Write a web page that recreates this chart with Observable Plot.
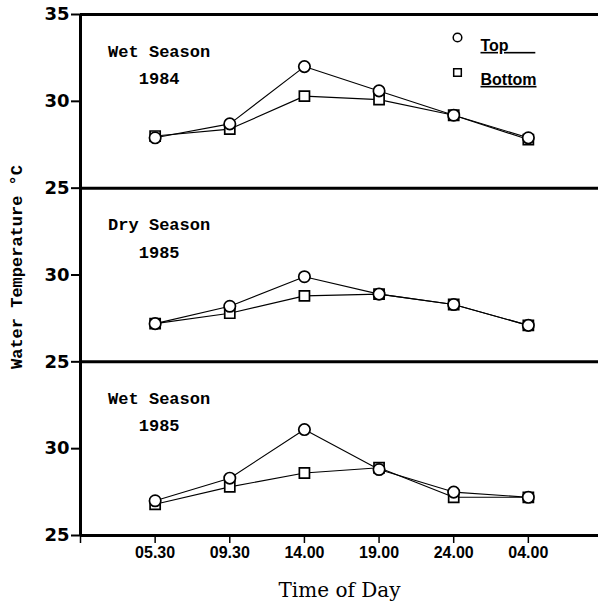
<!DOCTYPE html>
<html><head><meta charset="utf-8">
<script src="https://cdn.jsdelivr.net/npm/d3@7"></script>
<script src="https://cdn.jsdelivr.net/npm/@observablehq/plot@0.6"></script>
<style>
body{margin:0;background:#fff}
g[aria-description="legend-label"] text{text-decoration:underline;text-underline-offset:6px;text-decoration-thickness:1.6px}
</style></head><body><div id="chart"></div>
<script>
// Time of day categories
const times = ["05.30", "09.30", "14.00", "19.00", "24.00", "04.00"];
// Panels (top to bottom)
const panelLabels = ["Wet Season\n1984", "Dry Season\n1985", "Wet Season\n1985"];
const panelOffsets = [20, 10, 0]; // stacking offset of each panel (panel spans 25–35 °C)
// Water temperature °C
const wet1984Top    = [27.9, 28.7, 32.0, 30.6, 29.2, 27.9];
const wet1984Bottom = [28.0, 28.4, 30.3, 30.1, 29.2, 27.8];
const dry1985Top    = [27.2, 28.2, 29.9, 28.9, 28.3, 27.1];
const dry1985Bottom = [27.2, 27.8, 28.8, 28.9, 28.3, 27.1];
const wet1985Top    = [27.0, 28.3, 31.1, 28.8, 27.5, 27.2];
const wet1985Bottom = [26.8, 27.8, 28.6, 28.9, 27.2, 27.2];
const legendSeries = ["Top", "Bottom"];
const legendSymbols = ["circle", "square"];
const yTickValues = [25, 30, 35];

const seriesByPanel = [
  {Top: wet1984Top, Bottom: wet1984Bottom},
  {Top: dry1985Top, Bottom: dry1985Bottom},
  {Top: wet1985Top, Bottom: wet1985Bottom}
];
const base = yTickValues[0];
const span = yTickValues[2] - yTickValues[0];
const data = [];
seriesByPanel.forEach((s, p) => {
  for (const name of legendSeries) {
    s[name].forEach((v, i) => data.push({panel: p, series: name, time: i, temp: v, y: v - base + panelOffsets[p]}));
  }
});
const panels = panelLabels.map((label, p) => ({label, top: panelOffsets[p] + span}));
const boundaries = [0, ...panels.map(d => d.top)];
const yTicks = d3.range(0, 3 * span + 1, 5);
const yFmt = d => d === 3 * span ? String(yTickValues[2]) : String(base + (d % span));
const nbsp = "\u00a0";
const legendText = ["Top" + nbsp.repeat(6), "Bottom"];

const chart = Plot.plot({
  width: 598, height: 603,
  marginLeft: 80, marginRight: 0, marginTop: 14, marginBottom: 68,
  x: {domain: [-1, times.length - 0.06]},
  y: {domain: [0, 3 * span]},
  style: {background: "white", color: "black"},
  marks: [
    Plot.ruleY(boundaries, {strokeWidth: 3}),
    Plot.ruleX([-1], {strokeWidth: 3}),
    Plot.axisY({ticks: yTicks, tickFormat: yFmt, tickSize: 9, tickPadding: 2, label: null,
      fontSize: 18, fontWeight: "bold", fontFamily: "DejaVu Sans", strokeWidth: 2}),
    Plot.axisX({ticks: d3.range(-1, times.length), tickFormat: i => i < 0 ? "" : times[i], tickSize: 8, tickPadding: 3, label: null,
      fontSize: 16, fontWeight: "bold", fontFamily: "Liberation Sans", strokeWidth: 1.5}),
    Plot.line(data, {x: "time", y: "y", z: d => d.panel + d.series, stroke: "black", strokeWidth: 1.1}),
    Plot.dot(data.filter(d => d.series === "Bottom"), {x: "time", y: "y", symbol: "square", r: 5.7, fill: "white", stroke: "black", strokeWidth: 1.7}),
    Plot.dot(data.filter(d => d.series === "Top"), {x: "time", y: "y", symbol: "circle", r: 5.7, fill: "white", stroke: "black", strokeWidth: 1.7}),
    Plot.text(panels, {x: () => 0, y: "top", text: "label", dx: 4, dy: 23, lineAnchor: "top", lineHeight: 1.6,
      fontFamily: "Liberation Mono", fontWeight: "bold", fontSize: 17}),
    ...legendSeries.map((s, i) => Plot.dot([s], {frameAnchor: "top-left", dx: 377, dy: 23 + 35 * i, symbol: legendSymbols[i], r: 4.3, fill: "white", stroke: "black", strokeWidth: 1.5})),
    ...legendSeries.map((s, i) => Plot.text([legendText[i]], {frameAnchor: "top-left", dx: 400, dy: 25 + 34 * i, textAnchor: "start",
      fontFamily: "Liberation Sans", fontWeight: "bold", fontSize: 16, ariaDescription: "legend-label"})),
    Plot.text(["Time of Day"], {frameAnchor: "bottom", dy: 61, fontFamily: "DejaVu Serif", fontSize: 20}),
    Plot.text(["Water Temperature °C"], {frameAnchor: "left", textAnchor: "middle", dx: -64, dy: -8, rotate: -90,
      fontFamily: "Liberation Mono", fontWeight: "bold", fontSize: 17})
  ]
});
document.getElementById("chart").append(chart);
</script></body></html>
